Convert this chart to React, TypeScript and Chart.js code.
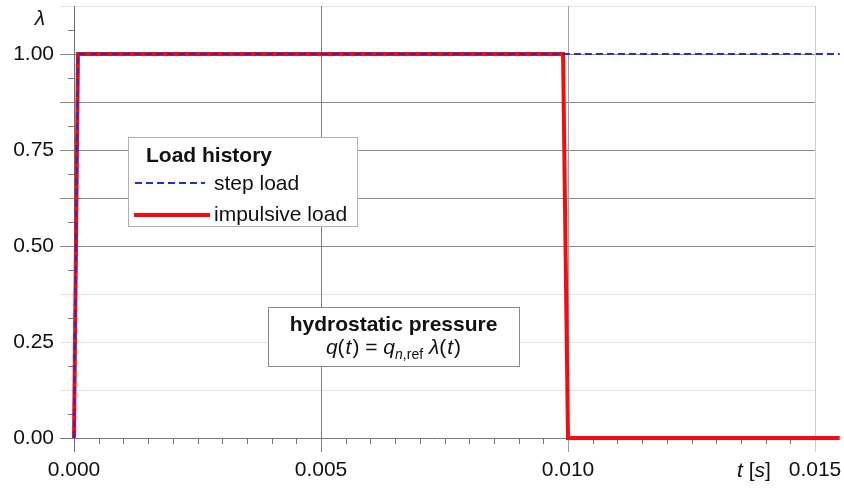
import React, { useEffect, useRef } from 'react';
import { Chart, registerables } from 'chart.js';

Chart.register(...registerables);

// ---- data ----
const stepTime = [0, 0.00008, 0.0155];
const stepLambda = [0, 1, 1];
const impulseTime = [0, 0.00008, 0.0099, 0.01, 0.0155];
const impulseLambda = [0, 1, 1, 0, 0];

const xTicks = [0, 0.005, 0.01, 0.015];
const xMinorTicks = [
  0.0005, 0.001, 0.0015, 0.002, 0.0025, 0.003, 0.0035, 0.004, 0.0045,
  0.0055, 0.006, 0.0065, 0.007, 0.0075, 0.008, 0.0085, 0.009, 0.0095,
  0.0105, 0.011, 0.0115, 0.012, 0.0125, 0.013, 0.0135, 0.014, 0.0145,
];
const yTicks = [0, 0.125, 0.25, 0.375, 0.5, 0.625, 0.75, 0.875, 1, 1.125];
const yMinorTicks = [0.0625, 0.1875, 0.3125, 0.4375, 0.5625, 0.6875, 0.8125, 0.9375, 1.0625];
const yLabelTicks = [0, 0.25, 0.5, 0.75, 1];

const FONT = '"Liberation Sans", Arial, Helvetica, sans-serif';
const BLUE = '#2a2ad0';
const RED = '#f20d0d';

const gridPlugin = {
  id: 'customGrid',
  beforeDatasetsDraw(chart: any) {
    const { ctx, chartArea: a, scales } = chart;
    const x = scales.x;
    const y = scales.y;
    ctx.save();
    ctx.lineWidth = 1;
    yTicks.forEach((v) => {
      const py = Math.round(y.getPixelForValue(v)) + 0.5;
      let c = '#e3e3e3';
      if (v === 0) c = '#7a7a7a';
      else if (v >= 0.5 && v <= 1) c = '#8a8a8a';
      ctx.strokeStyle = c;
      ctx.beginPath();
      ctx.moveTo(a.left - 14, py);
      ctx.lineTo(a.right, py);
      ctx.stroke();
    });
    ctx.strokeStyle = '#7a7a7a';
    yMinorTicks.forEach((v) => {
      const py = Math.round(y.getPixelForValue(v)) + 0.5;
      ctx.beginPath();
      ctx.moveTo(a.left - 6, py);
      ctx.lineTo(a.left, py);
      ctx.stroke();
    });
    const vColors = ['#6e6e6e', '#7e7e7e', '#a0a0a0', '#cdcdcd'];
    xTicks.forEach((v, i) => {
      const px = Math.round(x.getPixelForValue(v)) + 0.5;
      ctx.strokeStyle = vColors[i];
      ctx.beginPath();
      ctx.moveTo(px, a.top);
      ctx.lineTo(px, a.bottom + 14);
      ctx.stroke();
    });
    ctx.strokeStyle = '#7a7a7a';
    xMinorTicks.forEach((v) => {
      const px = Math.round(x.getPixelForValue(v)) + 0.5;
      ctx.beginPath();
      ctx.moveTo(px, a.bottom);
      ctx.lineTo(px, a.bottom + 6);
      ctx.stroke();
    });
    ctx.restore();
  },
};

function drawSegments(ctx: any, segs: any[], startX: number, baseY: number) {
  let cx = startX;
  segs.forEach((s) => {
    ctx.font = s.font;
    ctx.fillText(s.t, cx, baseY + (s.dy || 0));
    cx += ctx.measureText(s.t).width + (s.gap || 0);
  });
}

function segWidth(ctx: any, segs: any[]) {
  let w = 0;
  segs.forEach((s) => {
    ctx.font = s.font;
    w += ctx.measureText(s.t).width + (s.gap || 0);
  });
  return w;
}

const overlayPlugin = {
  id: 'overlay',
  afterDatasetsDraw(chart: any) {
    const { ctx } = chart;
    ctx.save();
    ctx.textBaseline = 'alphabetic';
    ctx.textAlign = 'left';

    // legend box
    const lx = 128, ly = 137, lw = 229, lh = 89;
    ctx.fillStyle = '#fff';
    ctx.fillRect(lx, ly, lw, lh);
    ctx.strokeStyle = '#b0b0b0';
    ctx.lineWidth = 1;
    ctx.strokeRect(lx + 0.5, ly + 0.5, lw, lh);
    ctx.fillStyle = '#111';
    ctx.font = `bold 21px ${FONT}`;
    ctx.fillText('Load history', 146, 162);
    ctx.font = `21px ${FONT}`;
    ctx.fillText('step load', 214, 190);
    ctx.fillText('impulsive load', 214, 221);
    ctx.strokeStyle = BLUE;
    ctx.lineWidth = 2;
    ctx.setLineDash([7, 4]);
    ctx.beginPath();
    ctx.moveTo(135, 183);
    ctx.lineTo(205, 183);
    ctx.stroke();
    ctx.setLineDash([]);
    ctx.strokeStyle = RED;
    ctx.lineWidth = 4;
    ctx.beginPath();
    ctx.moveTo(134, 215);
    ctx.lineTo(210, 215);
    ctx.stroke();

    // annotation box
    const bx = 268, by = 307, bw = 251, bh = 59;
    ctx.fillStyle = '#fff';
    ctx.fillRect(bx, by, bw, bh);
    ctx.strokeStyle = '#8a8a8a';
    ctx.lineWidth = 1;
    ctx.strokeRect(bx + 0.5, by + 0.5, bw, bh);
    ctx.fillStyle = '#111';
    ctx.font = `bold 21px ${FONT}`;
    ctx.textAlign = 'center';
    ctx.fillText('hydrostatic pressure', bx + bw / 2, 331);
    ctx.textAlign = 'left';
    const it = `italic 21px ${FONT}`;
    const rm = `21px ${FONT}`;
    const sub = `14px ${FONT}`;
    const subIt = `italic 14px ${FONT}`;
    const segs = [
      { t: 'q', font: it },
      { t: '(', font: rm, gap: 1 },
      { t: 't', font: it, gap: 1 },
      { t: ') = ', font: rm },
      { t: 'q', font: it },
      { t: 'n', font: subIt, dy: 5 },
      { t: ',ref', font: sub, dy: 5 },
      { t: ' ', font: rm },
      { t: 'λ', font: it },
      { t: '(', font: rm, gap: 1 },
      { t: 't', font: it, gap: 1 },
      { t: ')', font: rm },
    ];
    const w = segWidth(ctx, segs);
    drawSegments(ctx, segs, bx + bw / 2 - w / 2, 354);

    // axis labels
    ctx.font = `italic 21px ${FONT}`;
    ctx.textAlign = 'center';
    ctx.fillText('λ', 40, 25);
    ctx.textAlign = 'left';
    drawSegments(
      ctx,
      [
        { t: 't', font: it },
        { t: ' [', font: rm },
        { t: 's', font: it },
        { t: ']', font: rm },
      ],
      737,
      477
    );
    ctx.restore();
  },
};

function zeroPad(s: any) {
  s.paddingLeft = 0;
  s.paddingRight = 0;
  s.paddingTop = 0;
  s.paddingBottom = 0;
}

export default function App() {
  const ref = useRef<HTMLCanvasElement | null>(null);
  useEffect(() => {
    if (!ref.current) return;
    const chart = new Chart(ref.current, {
      type: 'scatter',
      data: {
        datasets: [
          {
            label: 'step load',
            data: stepTime.map((t, i) => ({ x: t, y: stepLambda[i] })),
            showLine: true,
            borderColor: BLUE,
            borderWidth: 2,
            borderDash: [7, 4],
            pointRadius: 0,
            tension: 0,
            clip: false as any,
            fill: false,
          },
          {
            label: 'impulsive load',
            data: impulseTime.map((t, i) => ({ x: t, y: impulseLambda[i] })),
            showLine: true,
            borderColor: RED,
            borderWidth: 4,
            borderJoinStyle: 'miter',
            pointRadius: 0,
            tension: 0,
            clip: false as any,
            fill: false,
          },
        ],
      },
      options: {
        responsive: false,
        animation: false,
        layout: { padding: { left: 0, top: 6, right: 29, bottom: 0 } },
        plugins: {
          legend: { display: false },
          tooltip: { enabled: false },
          title: { display: false },
        },
        scales: {
          x: {
            type: 'linear',
            min: 0,
            max: 0.015,
            grid: { display: false, drawTicks: false },
            border: { display: false },
            afterFit: (s: any) => {
              s.height = 50;
              zeroPad(s);
            },
            afterBuildTicks: (s: any) => {
              s.ticks = xTicks.map((v) => ({ value: v }));
            },
            ticks: {
              padding: 20,
              maxRotation: 0,
              autoSkip: false,
              color: '#111',
              font: { family: FONT, size: 21 },
              callback: (v: any) => Number(v).toFixed(3),
            },
          },
          y: {
            type: 'linear',
            min: 0,
            max: 1.125,
            grid: { display: false, drawTicks: false },
            border: { display: false },
            afterFit: (s: any) => {
              s.width = 74;
              zeroPad(s);
            },
            afterBuildTicks: (s: any) => {
              s.ticks = yTicks.map((v) => ({ value: v }));
            },
            ticks: {
              padding: 20,
              autoSkip: false,
              color: '#111',
              font: { family: FONT, size: 21 },
              callback: (v: any) =>
                yLabelTicks.some((t) => Math.abs(t - Number(v)) < 1e-9) ? Number(v).toFixed(2) : '',
            },
          },
        },
      } as any,
      plugins: [gridPlugin, overlayPlugin],
    });
    return () => chart.destroy();
  }, []);
  return (
    <div style={{ position: 'fixed', left: 0, top: 0, width: 844, height: 488, background: '#fff' }}>
      <canvas ref={ref} width={844} height={488} style={{ display: 'block' }} />
    </div>
  );
}
